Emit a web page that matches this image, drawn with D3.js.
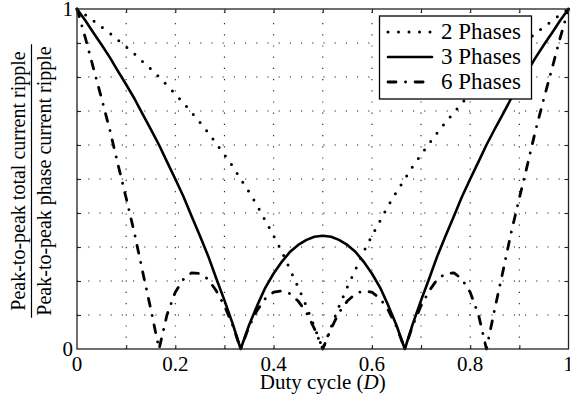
<!DOCTYPE html>
<html>
<head>
<meta charset="utf-8">
<script src="https://cdn.jsdelivr.net/npm/d3@7"></script>
<style>
    body { margin: 0; background: #fff; }
    text { font-family: "Liberation Serif", "Times New Roman", serif; fill: #000; }
</style>
</head>
<body>
<svg id="chart" width="570" height="402"></svg>
<script>

// duty cycle samples (D)
var duty = [0, .017, .033, .05, .067, .083, .1, .117, .133, .15, .167, .183, .2, .217, .233, .25,
    .267, .283, .3, .317, .333, .35, .367, .383, .4, .417, .433, .45, .467, .483, .5,
    .517, .533, .55, .567, .583, .6, .617, .633, .65, .667, .683, .7, .717, .733, .75,
    .767, .783, .8, .817, .833, .85, .867, .883, .9, .917, .933, .95, .967, .983, 1];

// ripple ratio
var two_phases = [1, .983, .966, .947, .929, .909, .889, .868, .846, .824, .8, .776, .75, .723, .696, .667,
    .636, .605, .571, .537, .5, .462, .421, .378, .333, .286, .235, .182, .125, .065, 0,
    .065, .125, .182, .235, .286, .333, .378, .421, .462, .5, .537, .571, .605, .636, .667,
    .696, .723, .75, .776, .8, .824, .846, .868, .889, .909, .929, .947, .966, .983, 1];

var three_phases = [1, .966, .931, .895, .857, .818, .778, .736, .692, .647, .6, .551, .5, .447, .391, .333,
    .273, .209, .143, .073, 0, .07, .129, .18, .222, .257, .285, .306, .321, .33, .333,
    .33, .321, .306, .285, .257, .222, .18, .129, .07, 0, .073, .143, .209, .273, .333,
    .391, .447, .5, .551, .6, .647, .692, .736, .778, .818, .857, .895, .931, .966, 1];

var six_phases = [1, .915, .828, .737, .643, .545, .444, .34, .231, .118, 0, .1, .167, .206, .224, .222,
    .205, .172, .127, .069, 0, .066, .115, .148, .167, .171, .163, .141, .107, .06, 0,
    .06, .107, .141, .163, .171, .167, .148, .115, .066, 0, .069, .127, .172, .205, .222,
    .224, .206, .167, .1, 0, .118, .231, .34, .444, .545, .643, .737, .828, .915, 1];

var series_names = ["2 Phases", "3 Phases", "6 Phases"];
var x_tick_labels = [0, 0.2, 0.4, 0.6, 0.8, 1];
var y_tick_labels = [0, 1];
var y_label_top = "Peak-to-peak total current ripple";
var y_label_bottom = "Peak-to-peak phase current ripple";

var svg = d3.select("#chart");

// nb "top" is taken by window.top, so prefix everything
var plot_left = 77, plot_right = 568.5, plot_top = 9, plot_bottom = 349;
var font_size = 21;

var x_scale = d3.scaleLinear().domain([0, 1]).range([plot_left, plot_right]);
var y_scale = d3.scaleLinear().domain([0, 1]).range([plot_bottom, plot_top]);

var grid_ticks = d3.range(1, 10).map(function(i) { return i / 10; });

// dotted grid
svg.append("g").selectAll("line")
    .data(grid_ticks).enter().append("line")
    .attr("x1", function(d) { return x_scale(d); })
    .attr("x2", function(d) { return x_scale(d); })
    .attr("y1", plot_bottom).attr("y2", plot_top)
    .attr("stroke", "#222").attr("stroke-width", 1.1)
    .attr("stroke-dasharray", "1.2,10");

svg.append("g").selectAll("line")
    .data(grid_ticks).enter().append("line")
    .attr("y1", function(d) { return y_scale(d); })
    .attr("y2", function(d) { return y_scale(d); })
    .attr("x1", plot_left).attr("x2", plot_right)
    .attr("stroke", "#222").attr("stroke-width", 1.1)
    .attr("stroke-dasharray", "1.2,10");

// axes, ticks pointing inward on all four sides
var tick_len = 4;
svg.append("g").attr("transform", "translate(0," + plot_bottom + ")")
    .call(d3.axisTop(x_scale).tickValues(grid_ticks).tickSize(tick_len).tickFormat(""));
svg.append("g").attr("transform", "translate(0," + plot_top + ")")
    .call(d3.axisBottom(x_scale).tickValues(grid_ticks).tickSize(tick_len).tickFormat(""));
svg.append("g").attr("transform", "translate(" + plot_left + ",0)")
    .call(d3.axisRight(y_scale).tickValues(grid_ticks).tickSize(tick_len).tickFormat(""));
svg.append("g").attr("transform", "translate(" + plot_right + ",0)")
    .call(d3.axisLeft(y_scale).tickValues(grid_ticks).tickSize(tick_len).tickFormat(""));
svg.selectAll(".domain").remove();
svg.selectAll(".tick line").attr("stroke", "#222").attr("stroke-width", 1.1);

// tick labels
svg.append("g").selectAll("text")
    .data(x_tick_labels).enter().append("text")
    .attr("x", function(d) { return x_scale(d); })
    .attr("y", plot_bottom + 22)
    .attr("text-anchor", "middle")
    .style("font-size", font_size + "px")
    .text(function(d) { return d; });

svg.append("g").selectAll("text")
    .data(y_tick_labels).enter().append("text")
    .attr("x", plot_left - 4)
    .attr("y", function(d) { return y_scale(d) + 7; })
    .attr("text-anchor", "end")
    .style("font-size", font_size + "px")
    .text(function(d) { return d; });

// x label
var x_label = svg.append("text")
    .attr("x", (plot_left + plot_right) / 2)
    .attr("y", plot_bottom + 40)
    .attr("text-anchor", "middle")
    .style("font-size", font_size + "px");
x_label.append("tspan").text("Duty cycle (");
x_label.append("tspan").style("font-style", "italic").text("D");
x_label.append("tspan").text(")");

// y label as a fraction
var y_mid = (plot_top + plot_bottom) / 2 + 2;
var frac = svg.append("g").attr("transform", "translate(0," + y_mid + ") rotate(-90)");
var num = frac.append("text").attr("x", 0).attr("y", 25)
    .attr("text-anchor", "middle").style("font-size", "20px").text(y_label_top);
var den = frac.append("text").attr("x", 0).attr("y", 51)
    .attr("text-anchor", "middle").style("font-size", "20px").text(y_label_bottom);
var bar_len = Math.max(num.node().getComputedTextLength(), den.node().getComputedTextLength()) + 4;
frac.append("line")
    .attr("x1", -bar_len / 2).attr("x2", bar_len / 2)
    .attr("y1", 31.5).attr("y2", 31.5)
    .attr("stroke", "#000").attr("stroke-width", 1.2);

// curves
var styles = [
    { values: two_phases, dash: "0,10.5", width: 3 },
    { values: three_phases, dash: null, width: 2.6 },
    { values: six_phases, dash: "8,9.5,0.1,9.5", width: 2.8 }
];

var line = d3.line()
    .x(function(d) { return x_scale(d[0]); })
    .y(function(d) { return y_scale(d[1]); });

svg.append("clipPath").attr("id", "plot-clip")
    .append("rect").attr("x", plot_left - 2).attr("y", plot_top - 2)
    .attr("width", plot_right - plot_left + 4).attr("height", plot_bottom - plot_top + 4);

styles.forEach(function(s) {
    svg.append("path")
        .datum(d3.zip(duty, s.values))
        .attr("d", line)
        .attr("clip-path", "url(#plot-clip)")
        .attr("fill", "none")
        .attr("stroke", "#000")
        .attr("stroke-width", s.width)
        .attr("stroke-linecap", "round")
        .attr("stroke-linejoin", "round")
        .attr("stroke-dasharray", s.dash);
});

// frame
svg.append("rect")
    .attr("x", plot_left).attr("y", plot_top)
    .attr("width", plot_right - plot_left).attr("height", plot_bottom - plot_top)
    .attr("fill", "none").attr("stroke", "#222").attr("stroke-width", 1.3);

// legend
var legend = svg.append("g");
legend.append("rect")
    .attr("x", 379.5).attr("y", 16)
    .attr("width", 152).attr("height", 83)
    .attr("fill", "#fff").attr("stroke", "#000").attr("stroke-width", 1.3);

series_names.forEach(function(name, i) {
    var cy = 32 + i * 25;
    legend.append("line")
        .attr("x1", 388).attr("x2", 432)
        .attr("y1", cy).attr("y2", cy)
        .attr("stroke", "#000")
        .attr("stroke-width", styles[i].width)
        .attr("stroke-linecap", "round")
        .attr("stroke-dasharray", styles[i].dash);
    legend.append("text")
        .attr("x", 441)
        .attr("y", cy + 7)
        .style("font-size", "23px")
        .text(name);
});

</script>
</body>
</html>
